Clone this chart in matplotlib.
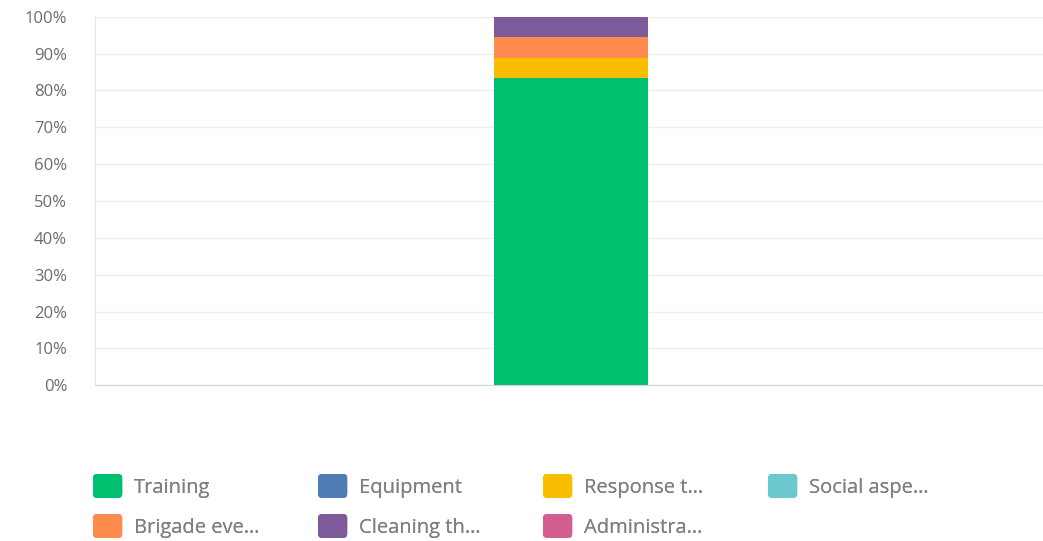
import matplotlib.pyplot as plt
from matplotlib.patches import Patch, FancyBboxPatch
from matplotlib.legend_handler import HandlerPatch
from matplotlib.ticker import PercentFormatter

plt.rcParams['font.family'] = ['Open Sans', 'DejaVu Sans']

# stacked bar, one category (values in percent, bottom to top)
categories = ['']
series_names = ['Training', 'Equipment', 'Response t…', 'Social aspe…',
                'Brigade eve…', 'Cleaning th…', 'Administra…']
series_values = [83.3, 0.0, 5.6, 0.0, 5.6, 5.5, 0.0]
series_colors = ['#00bf6f', '#507cb6', '#f9be00', '#6bc8cd',
                 '#ff8b4f', '#7f5a9b', '#d25f90']
yticks = [0, 10, 20, 30, 40, 50, 60, 70, 80, 90, 100]


class RoundBox(HandlerPatch):
    def create_artists(self, legend, orig, xd, yd, w, h, fontsize, trans):
        p = FancyBboxPatch((-xd, -yd), w, h, boxstyle='round,pad=0,rounding_size=3',
                           facecolor=orig.get_facecolor(), edgecolor='none',
                           transform=trans)
        return [p]


fig = plt.figure(figsize=(10.43, 5.41), dpi=100)
ax = fig.add_axes([0.091, 0.288, 0.909, 0.681])

bottom = 0
for name, val, col in zip(series_names, series_values, series_colors):
    ax.bar(categories, [val], bottom=bottom, width=0.163, color=col, label=name)
    bottom += val

ax.set_xlim(-0.505, 0.5)
ax.set_ylim(0, 100)
ax.set_yticks(yticks)
ax.yaxis.set_major_formatter(PercentFormatter(decimals=0))
ax.tick_params(axis='y', length=0, pad=20, labelsize=12, labelcolor='#6b6b6b')
ax.tick_params(axis='x', length=0, labelbottom=False)
ax.grid(axis='y', color='#ededed', linewidth=1)
ax.set_axisbelow(True)
for s in ['top', 'right']:
    ax.spines[s].set_visible(False)
ax.spines['left'].set_color('#e4e4e4')
ax.spines['bottom'].set_color('#d5d5d5')

# legend: four columns, each its own legend so the columns are evenly spaced
columns = [[0, 4], [1, 5], [2, 6], [3]]
col_x = [93, 318, 543, 768]
for idx, x in zip(columns, col_x):
    handles = [Patch(facecolor=series_colors[i]) for i in idx]
    labels = [series_names[i] for i in idx]
    leg = fig.legend(handles, labels, loc='upper left',
                     bbox_to_anchor=(x / 1043, 1 - 474 / 541), frameon=False,
                     fontsize=14.5, labelcolor='#7f7f7f', handlelength=1.45,
                     handleheight=1.45, handletextpad=0.6, labelspacing=0.8,
                     borderpad=0, borderaxespad=0,
                     handler_map={Patch: RoundBox()})
    fig.add_artist(leg)

fig.savefig('out.png', dpi=100)
